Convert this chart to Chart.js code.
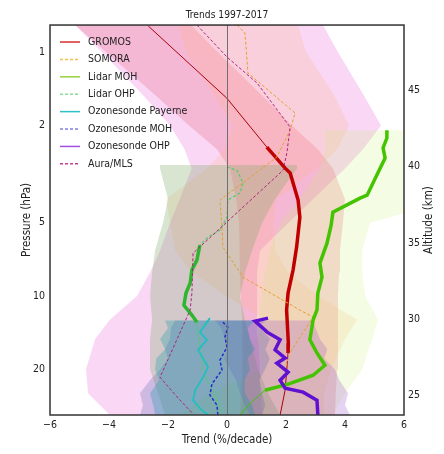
<!DOCTYPE html>
<html lang="en">
<head>
<meta charset="UTF-8" />
<title>Trends 1997-2017</title>
<script src="https://cdn.jsdelivr.net/npm/chart.js"></script>
<style>
  html, body { margin: 0; padding: 0; background: #fff; }
  canvas { display: block; }
</style>
</head>
<body>
<canvas id="chart" width="444" height="454"></canvas>
<script>
  // trend profiles: pressure (hPa) and trend (%/decade)
  const gromosP = [0.782, 1.543, 2.45, 2.99, 3.13, 4.04, 4.75, 6.3, 7.82, 9.72, 11.4, 15.6, 17.1, 24.3, 30.7];
  const gromosT = [-2.67, -0.01, 1.35, 1.97, 2.14, 2.41, 2.47, 2.36, 2.24, 2.07, 2.02, 2.08, 2.07, 1.97, 1.80];
  const somoraP = [0.775, 0.836, 1.219, 1.778, 2.088, 2.693, 4.04, 5.21, 6.30, 8.36, 11.4, 12.2, 17.3, 22.1];
  const somoraT = [0.34, 0.61, 0.71, 2.31, 2.14, 1.69, -0.24, -0.17, -0.14, 0.54, 2.47, 2.92, 2.10, 1.90];
  const lidarMohP = [2.09, 2.25, 2.47, 2.72, 3.19, 3.86, 3.97, 4.53, 5.12, 6.07, 7.32, 8.36, 9.72, 11.4, 12.5, 15.1, 17.1, 19.2, 21.1, 22.9, 24.3, 27.5, 30.7];
  const lidarMohT = [5.42, 5.42, 5.29, 5.36, 5.08, 4.75, 4.51, 3.59, 3.53, 3.39, 3.15, 3.22, 3.08, 3.05, 2.92, 2.81, 3.05, 3.32, 2.92, 2.10, 1.29, 0.78, 0.44];
  const lidarOhpP = [2.96, 3.05, 3.44, 3.78, 4.04, 4.75, 5.36, 5.73, 6.18, 7.12, 7.82, 8.85, 9.72, 10.9, 11.96, 12.79, 14.45, 19.54, 22.1, 26.7, 30.7];
  const lidarOhpT = [0, 0.34, 0.54, 0.44, 0.03, 0, -0.24, -0.64, -0.92, -1.02, -1.19, -1.25, -1.39, -1.46, -1.19, -1.02, -0.98, -0.81, -0.68, -0.34, -0.17];
  const payerneP = [12.31, 14.05, 15.1, 16.6, 19.54, 21.48, 24.3, 26.7, 29.3, 30.7];
  const payerneT = [-0.58, -0.92, -0.68, -0.98, -0.64, -0.81, -1.08, -1.15, -0.86, -0.64];
  const sondeMohP = [12.79, 13.4, 14.72, 16.2, 18.3, 20.1, 22.9, 25.45, 27.97, 30.7];
  const sondeMohT = [-0.14, 0.03, -0.07, 0, -0.24, -0.17, -0.51, -0.58, -0.34, -0.31];
  const sondeOhpP = [12.31, 12.66, 14.05, 15.1, 16.6, 17.95, 18.82, 20.49, 22.1, 23.83, 24.74, 26.7, 30.7];
  const sondeOhpT = [1.39, 0.95, 1.36, 1.80, 1.63, 1.97, 1.69, 2.07, 1.80, 1.97, 2.58, 3.05, 3.08];
  const auraP = [0.775, 1.048, 1.34, 2.03, 2.59, 3.05, 6.67, 9.72, 11.4, 21.5, 25.9, 30.4];
  const auraT = [-1.02, 0, 1.02, 2.14, 2.03, 1.90, -1.15, -1.19, -1.25, -2.27, -1.69, -1.15];

  // pressure ranges drawn with the thick line
  const gromosThick = [2.45, 17.1];
  const lidarMohThick = [2.09, 24.3];
  const lidarOhpThick = [6.18, 12.79];

  // uncertainty bands: pressure levels, lower and upper trend
  const bandP = [0.775, 1, 1.5, 2, 2.5, 3, 4, 5, 6.5, 8, 10, 12.5, 15, 20, 25, 30.7];
  const auraLo = [-5.15, -4.24, -2.85, -1.93, -1.44, -1.2, -1.6, -1.93, -2.27, -2.61, -3.05, -3.97, -4.47, -4.78, -4.71, -3.97];
  const auraHi = [3.25, 3.76, 4.63, 5.22, 4.61, 4.0, 2.92, 2.08, 1.12, 1.02, 1.02, 1.02, 1.05, 1.12, 1.15, 1.19];
  const gromosLo = [-5.15, -4.1, -2.44, -1.29, -0.34, 0.1, 0.31, 0.41, 0.44, 0.44, 0.47, 0.51, 0.54, 0.54, 0.51, 0.44];
  const gromosHi = [-1.22, -0.32, 1.17, 2.2, 3.08, 3.59, 4.0, 3.93, 3.83, 3.8, 3.76, 3.76, 3.76, 3.73, 3.69, 3.66];
  const somoraLo = [-1.66, -1.39, -0.44, 0.2, -0.07, -0.68, -2.07, -1.93, -1.76, -1.19, -0.03, 1.29, 0.95, 0.54, 0.44, 0.44];
  const somoraHi = [2.41, 2.68, 3.63, 4.14, 3.73, 3.05, 1.66, 1.59, 1.63, 2.07, 3.08, 4.41, 4.0, 3.53, 3.29, 3.29];
  const lidarMohBandP = [2.09, 2.5, 3, 4, 4.5, 5, 6.5, 8, 10, 12.5, 15, 20, 25, 30.7];
  const lidarMohLo = [3.32, 3.36, 3.15, 2.47, 2.1, 1.8, 1.46, 1.29, 1.19, 1.05, 1.05, 1.19, -0.58, -1.59];
  const lidarMohHi = [8.2, 7.6, 7.2, 6.5, 6.2, 4.85, 4.58, 4.58, 4.68, 5.12, 4.92, 4.58, 4.0, 3.59];
  const lidarOhpBandP = [2.9, 3, 4, 5, 6.5, 8, 10, 12.5, 15, 20, 25, 30.7];
  const lidarOhpLo = [-2.27, -2.27, -2.0, -2.17, -2.44, -2.54, -2.61, -2.54, -2.61, -2.61, -2.34, -2.1];
  const lidarOhpHi = [2.37, 2.37, 1.63, 1.19, 0.85, 0.61, 0.44, 0.61, 0.78, 1.05, 1.39, 1.8];
  const sondeBandP = [12.6, 13.5, 15, 16.5, 18, 20, 22, 25, 28, 30.7];
  const payerneLo = [-2.1, -2.0, -2.27, -2.1, -2.4, -2.44, -2.3, -2.61, -2.5, -2.44];
  const payerneHi = [0.95, 0.7, 0.78, 0.95, 0.7, 0.78, 0.6, 0.61, 0.85, 0.95];
  const sondeMohLo = [-1.76, -1.9, -1.93, -2.1, -2.0, -2.27, -2.6, -2.95, -2.85, -2.95];
  const sondeMohHi = [1.29, 1.1, 1.46, 1.3, 1.45, 1.29, 1.1, 1.19, 1.3, 1.19];
  const sondeOhpLo = [-0.41, -0.2, -0.07, 0.05, -0.1, 0.1, 0.3, 0.44, 0.6, 0.78];
  const sondeOhpHi = [2.92, 3.0, 3.15, 3.4, 3.3, 3.66, 3.8, 4.1, 4.0, 4.17];

  // axes
  const xTicks = [-6, -4, -2, 0, 2, 4, 6];
  const pTicks = [1, 2, 5, 10, 20];
  const altTicks = [25, 30, 35, 40, 45];

  const FONT = '"DejaVu Sans Condensed", "Liberation Sans", sans-serif';

  const pts = (t, p) => t.map((v, i) => ({ x: v, y: p[i] }));
  const band = (p, lo, hi) => pts(lo, p).concat(pts(hi, p).reverse());

  function inRange(range) {
    return ctx => {
      const d = ctx.chart.data.datasets[ctx.datasetIndex].data;
      const a = d[ctx.p0DataIndex].y, b = d[ctx.p1DataIndex].y;
      return a >= range[0] - 1e-6 && b <= range[1] + 1e-6;
    };
  }
  const gIn = inRange(gromosThick), mIn = inRange(lidarMohThick), oIn = inRange(lidarOhpThick);

  function bandSet(data, color, order) {
    return { data, fill: 'shape', backgroundColor: color, borderWidth: 0, pointRadius: 0, order };
  }

  const datasets = [
    bandSet(band(bandP, auraLo, auraHi), 'rgba(232,100,215,0.26)', 20),
    bandSet(band(bandP, gromosLo, gromosHi), 'rgba(225,60,80,0.2)', 19),
    bandSet(band(bandP, somoraLo, somoraHi), 'rgba(255,170,110,0.18)', 18),
    bandSet(band(lidarMohBandP, lidarMohLo, lidarMohHi), 'rgba(190,235,90,0.17)', 17),
    bandSet(band(lidarOhpBandP, lidarOhpLo, lidarOhpHi), 'rgba(115,165,90,0.28)', 16),
    bandSet(band(sondeBandP, sondeOhpLo, sondeOhpHi), 'rgba(150,70,200,0.24)', 15),
    bandSet(band(sondeBandP, sondeMohLo, sondeMohHi), 'rgba(70,90,170,0.24)', 14),
    bandSet(band(sondeBandP, payerneLo, payerneHi), 'rgba(0,150,170,0.28)', 13),
    {
      label: 'GROMOS', data: pts(gromosT, gromosP), order: 8,
      borderColor: '#a8000a', borderWidth: 1,
      segment: { borderWidth: c => gIn(c) ? 3.5 : 1, borderColor: c => gIn(c) ? '#c00000' : '#a8000a' },
      legendColor: '#e06060', legendWidth: 2, legendDash: []
    },
    {
      label: 'SOMORA', data: pts(somoraT, somoraP), order: 7,
      borderColor: '#e0a030', borderWidth: 1, borderDash: [3, 2],
      legendColor: '#f0c050', legendWidth: 1.5, legendDash: [3, 2]
    },
    {
      label: 'Lidar MOH', data: pts(lidarMohT, lidarMohP), order: 6,
      borderColor: '#44c400', borderWidth: 1,
      segment: { borderWidth: c => mIn(c) ? 3.5 : 1 },
      legendColor: '#9ad040', legendWidth: 1.5, legendDash: []
    },
    {
      label: 'Lidar OHP', data: pts(lidarOhpT, lidarOhpP), order: 5,
      borderColor: '#50cc70', borderWidth: 1.2, borderDash: [3, 2],
      segment: {
        borderWidth: c => oIn(c) ? 3.5 : 1.2,
        borderDash: c => oIn(c) ? [] : [3, 2],
        borderColor: c => oIn(c) ? '#2fb52f' : '#50cc70'
      },
      legendColor: '#88dd99', legendWidth: 1.5, legendDash: [3, 2]
    },
    {
      label: 'Ozonesonde Payerne', data: pts(payerneT, payerneP), order: 4,
      borderColor: '#20c0c0', borderWidth: 1.8,
      legendColor: '#30c0c8', legendWidth: 1.5, legendDash: []
    },
    {
      label: 'Ozonesonde MOH', data: pts(sondeMohT, sondeMohP), order: 3,
      borderColor: '#2030c8', borderWidth: 1.5, borderDash: [3, 2],
      legendColor: '#7f82e0', legendWidth: 1.5, legendDash: [3, 2]
    },
    {
      label: 'Ozonesonde OHP', data: pts(sondeOhpT, sondeOhpP), order: 2,
      borderColor: '#6010d0', borderWidth: 3.5,
      legendColor: '#a050e0', legendWidth: 1.5, legendDash: []
    },
    {
      label: 'Aura/MLS', data: pts(auraT, auraP), order: 1,
      borderColor: '#b02080', borderWidth: 1, borderDash: [3, 2],
      legendColor: '#c04090', legendWidth: 1.5, legendDash: [3, 2]
    }
  ];

  // frame, legend inside the plot, right-hand axis title
  const decor = {
    id: 'decor',
    afterDraw(chart) {
      const { ctx, chartArea: a } = chart;
      ctx.save();
      ctx.strokeStyle = '#333';
      ctx.lineWidth = 1.5;
      ctx.strokeRect(a.left, a.top, a.right - a.left, a.bottom - a.top);

      let y = a.top + 17;
      ctx.font = '10.5px ' + FONT;
      ctx.textBaseline = 'middle';
      chart.data.datasets.forEach(ds => {
        if (!ds.legendColor) return;
        ctx.strokeStyle = ds.legendColor;
        ctx.lineWidth = ds.legendWidth;
        ctx.setLineDash(ds.legendDash);
        ctx.beginPath();
        ctx.moveTo(a.left + 10, y);
        ctx.lineTo(a.left + 30, y);
        ctx.stroke();
        ctx.setLineDash([]);
        ctx.fillStyle = '#222';
        ctx.fillText(ds.label, a.left + 38, y);
        y += 17.4;
      });

      ctx.translate(a.right + 25, (a.top + a.bottom) / 2);
      ctx.rotate(-Math.PI / 2);
      ctx.font = '11.5px ' + FONT;
      ctx.textAlign = 'center';
      ctx.fillStyle = '#222';
      ctx.fillText('Altitude (km)', 0, 0);
      ctx.restore();
    }
  };

  new Chart(document.getElementById('chart'), {
    type: 'line',
    data: { datasets },
    options: {
      responsive: false,
      animation: false,
      devicePixelRatio: 1,
      events: [],
      layout: { padding: 0 },
      elements: { point: { radius: 0 }, line: { tension: 0 } },
      plugins: {
        legend: { display: false },
        tooltip: { enabled: false },
        title: {
          display: true, text: 'Trends 1997-2017', fullSize: false, color: '#222',
          font: { family: FONT, size: 10.2, weight: 'normal' },
          padding: { top: 8.8, bottom: 4 }
        }
      },
      scales: {
        x: {
          type: 'linear', min: -6, max: 6,
          afterBuildTicks: s => { s.ticks = xTicks.map(v => ({ value: v })); },
          afterFit: s => { s.height = 39; },
          ticks: {
            color: '#222', padding: 4, maxRotation: 0,
            font: { family: FONT, size: 10.5 },
            callback: v => v < 0 ? '\u2212' + Math.abs(v) : String(v)
          },
          grid: {
            z: 1, drawTicks: false, lineWidth: 1,
            color: c => c.tick && c.tick.value === 0 ? '#6f6f6f' : 'rgba(0,0,0,0)'
          },
          border: { display: false },
          title: {
            display: true, text: 'Trend (%/decade)', color: '#222',
            font: { family: FONT, size: 11.5 }, padding: { top: 0, bottom: 7.5 }
          }
        },
        y: {
          type: 'logarithmic', reverse: true, min: 0.775, max: 30.7, position: 'left',
          afterBuildTicks: s => { s.ticks = pTicks.map(v => ({ value: v })); },
          afterFit: s => { s.width = 50; },
          ticks: {
            color: '#222', padding: 5,
            font: { family: FONT, size: 10.5 },
            callback: v => String(v)
          },
          grid: { display: false, drawTicks: false },
          border: { display: false },
          title: {
            display: true, text: 'Pressure (hPa)', color: '#222',
            font: { family: FONT, size: 11.5 }, padding: { top: 20, bottom: 0 }
          }
        },
        y2: {
          type: 'linear', min: 23.7, max: 49.3, position: 'right',
          afterBuildTicks: s => { s.ticks = altTicks.map(v => ({ value: v })); },
          afterFit: s => { s.width = 40; },
          ticks: { color: '#222', padding: 4, font: { family: FONT, size: 10.5 } },
          grid: { display: false, drawTicks: false },
          border: { display: false }
        }
      }
    },
    plugins: [decor]
  });
</script>
</body>
</html>
